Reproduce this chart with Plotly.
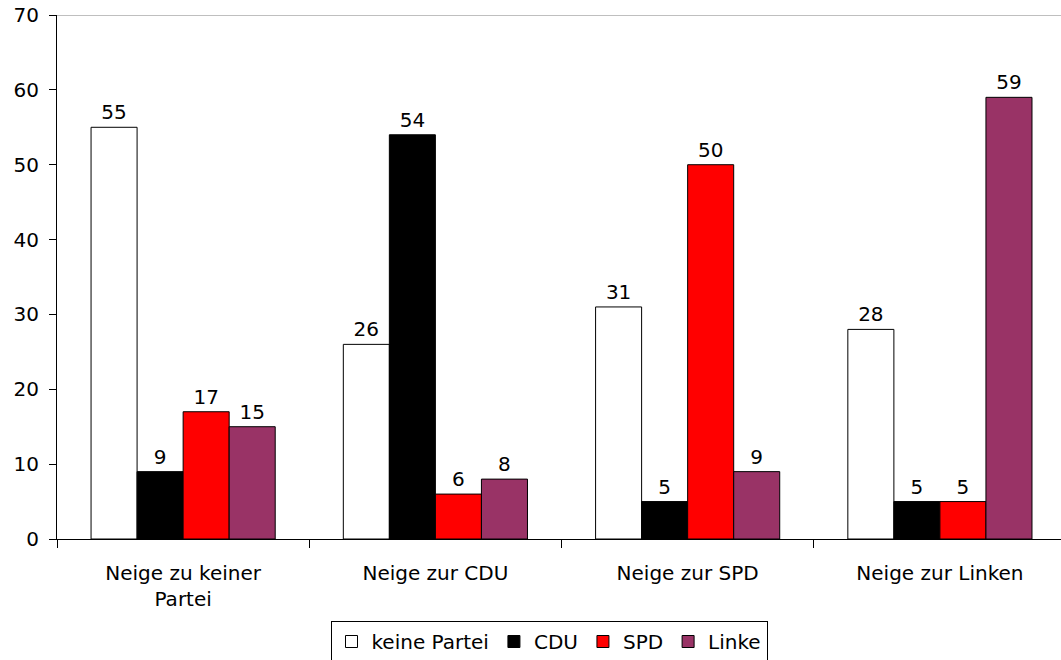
import plotly.graph_objects as go

categories = ["Neige zu keiner<br>Partei", "Neige zur CDU", "Neige zur SPD", "Neige zur Linken"]
series_names = ["keine Partei", "CDU", "SPD", "Linke"]
keine_partei = [55, 26, 31, 28]
cdu = [9, 54, 5, 5]
spd = [17, 6, 50, 5]
linke = [15, 8, 9, 59]
colors = ["#FFFFFF", "#000000", "#FF0000", "#993366"]
y_ticks = [0, 10, 20, 30, 40, 50, 60, 70]

FONT = "DejaVu Sans"
FS = 20
fig = go.Figure()
for name, vals, col in zip(series_names, [keine_partei, cdu, spd, linke], colors):
    fig.add_trace(go.Bar(
        x=categories, y=vals, name=name,
        marker=dict(color=col, line=dict(color="#000000", width=1)),
        text=[str(v) for v in vals], textposition="outside",
        textfont=dict(family=FONT, size=FS, color="#000000"),
        cliponaxis=False,
    ))

W, H = 1061, 660
fig.update_layout(
    width=W, height=H,
    margin=dict(l=57, r=0, t=15, b=121),
    paper_bgcolor="white", plot_bgcolor="white",
    barmode="group", bargap=0.27, bargroupgap=0,
    font=dict(family=FONT, size=FS, color="#000000"),
    showlegend=True,
    legend=dict(
        orientation="h", xref="container", yref="container",
        x=549 / W, xanchor="center", y=1 - 621 / H, yanchor="top",
        bordercolor="#000000", borderwidth=1, bgcolor="white",
        font=dict(family=FONT, size=FS, color="#000000"),
        itemwidth=30, tracegroupgap=0,
    ),
    xaxis=dict(
        range=[-0.5, 3.48], showline=True, linecolor="#000000", linewidth=1,
        ticks="outside", tickson="boundaries", ticklen=8, tickcolor="#000000",
        showgrid=False, tickfont=dict(size=FS), ticklabelstandoff=16,
    ),
    yaxis=dict(
        range=[0, 70], tickvals=y_ticks, showline=True, linecolor="#000000", linewidth=1,
        ticks="outside", ticklen=7, tickcolor="#000000", showgrid=False,
        tickfont=dict(size=FS), zeroline=False, ticklabelstandoff=6,
    ),
    shapes=[dict(type="line", xref="paper", yref="y", x0=0, x1=1, y0=70, y1=70,
                 line=dict(color="#808080", width=1))],
)
fig.write_html("out.html")
